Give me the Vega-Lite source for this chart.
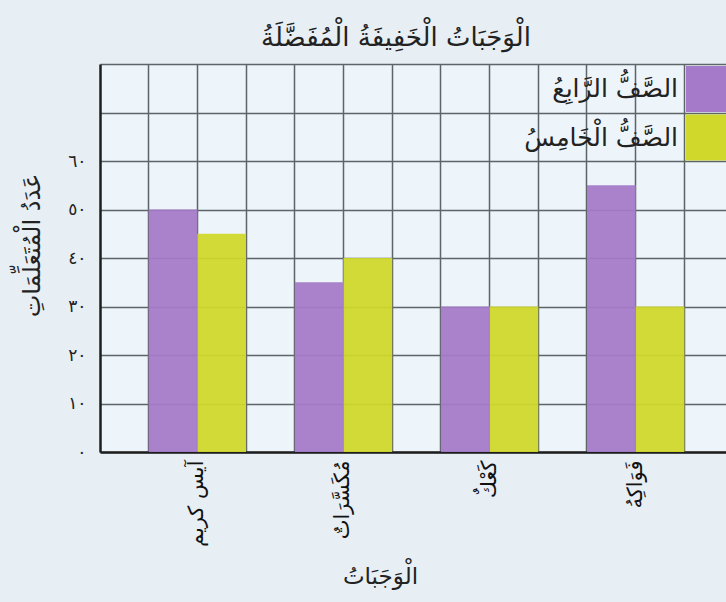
{
  "$schema": "https://vega.github.io/schema/vega-lite/v6.json",
  "width": 626,
  "height": 388,
  "autosize": {"type": "none"},
  "padding": {"left": 100, "top": 64, "right": 0, "bottom": 150},
  "background": "#e7eef4",
  "config": {
    "font": "DejaVu Sans",
    "view": {"fill": "#eef5fa", "stroke": null},
    "axis": {"gridColor": "#5e6569", "gridWidth": 1.5, "gridOpacity": 1, "domainColor": "#1e1e1e", "domainWidth": 2.5}
  },
  "title": {
    "text": "الْوَجَبَاتُ الْخَفِيفَةُ الْمُفَضَّلَةُ",
    "fontSize": 26,
    "fontWeight": "normal",
    "color": "#222222",
    "anchor": "middle",
    "frame": "group",
    "baseline": "alphabetic",
    "offset": -8,
    "dx": -17
  },
  "data": {
    "values": [
      {"category": "آيس كريم", "grade": "الصَّفُّ الرَّابِعُ", "value": 50},
      {"category": "آيس كريم", "grade": "الصَّفُّ الْخَامِسُ", "value": 45},
      {"category": "مُكَسَّرَاتٌ", "grade": "الصَّفُّ الرَّابِعُ", "value": 35},
      {"category": "مُكَسَّرَاتٌ", "grade": "الصَّفُّ الْخَامِسُ", "value": 40},
      {"category": "كَعْكٌ", "grade": "الصَّفُّ الرَّابِعُ", "value": 30},
      {"category": "كَعْكٌ", "grade": "الصَّفُّ الْخَامِسُ", "value": 30},
      {"category": "فَوَاكِهُ", "grade": "الصَّفُّ الرَّابِعُ", "value": 55},
      {"category": "فَوَاكِهُ", "grade": "الصَّفُّ الْخَامِسُ", "value": 30}
    ]
  },
  "encoding": {
    "xOffset": {
      "field": "grade",
      "type": "nominal",
      "scale": {"domain": ["الصَّفُّ الرَّابِعُ", "الصَّفُّ الْخَامِسُ"], "paddingInner": 0, "paddingOuter": 0}
    },
    "y": {
      "field": "value",
      "type": "quantitative",
      "scale": {"domain": [0, 80], "nice": false},
      "axis": {
        "values": [0, 10, 20, 30, 40, 50, 60, 70, 80],
        "grid": true,
        "ticks": false,
        "labelExpr": "['٠','١٠','٢٠','٣٠','٤٠','٥٠','٦٠','',''][round(datum.value/10)]",
        "labelFontSize": 17,
        "labelColor": "#222222",
        "labelPadding": 14,
        "title": "عَدَدُ الْمُتَعَلِّمَاتِ",
        "titleFontSize": 24,
        "titleFontWeight": "normal",
        "titleColor": "#222222",
        "titleX": -68,
        "titleY": 181,
        "titleAlign": "center",
        "titleBaseline": "middle"
      }
    }
  },
  "layer": [
    {
      "mark": {"type": "bar", "fillOpacity": 0.94},
      "encoding": {
        "x": {
          "field": "category",
          "type": "nominal",
          "sort": null,
          "scale": {"paddingInner": 0.3333, "paddingOuter": 0.309, "align": 0.539},
          "axis": {
            "orient": "bottom",
            "grid": true,
            "ticks": false,
            "domain": true,
            "labelAngle": 270,
            "labelFontSize": 21,
            "labelColor": "#111111",
            "labelPadding": 8,
            "title": "الْوَجَبَاتُ",
            "titleFontSize": 23,
            "titleFontWeight": "normal",
            "titleColor": "#222222",
            "titleX": 280,
            "titleY": 124,
            "titleAlign": "center",
            "titleBaseline": "middle"
          }
        },
        "color": {
          "field": "grade",
          "type": "nominal",
          "scale": {"domain": ["الصَّفُّ الرَّابِعُ", "الصَّفُّ الْخَامِسُ"], "range": ["#a57ac8", "#d0d82b"]},
          "legend": {
            "title": null,
            "orient": "none",
            "legendX": 586,
            "legendY": 2,
            "padding": 0,
            "symbolType": "square",
            "symbolSize": 2116,
            "symbolStrokeWidth": 0,
            "symbolOpacity": 1,
            "rowPadding": 2.5,
            "labelAlign": "right",
            "labelOffset": -54,
            "labelFontSize": 25,
            "labelColor": "#222222",
            "labelLimit": 300
          }
        }
      }
    },
    {
      "mark": {"type": "bar", "opacity": 0},
      "encoding": {
        "x": {
          "field": "category",
          "type": "nominal",
          "sort": null,
          "axis": {"orient": "top", "grid": true, "bandPosition": 0, "labels": false, "ticks": false, "domain": false, "title": null, "minExtent": 0, "maxExtent": 0}
        }
      }
    },
    {
      "mark": {"type": "bar", "opacity": 0},
      "encoding": {
        "x": {
          "field": "category",
          "type": "nominal",
          "sort": null,
          "axis": {"orient": "top", "grid": true, "bandPosition": 1, "labels": false, "ticks": false, "domain": false, "title": null, "minExtent": 0, "maxExtent": 0}
        }
      }
    }
  ],
  "resolve": {"axis": {"x": "independent"}}
}
